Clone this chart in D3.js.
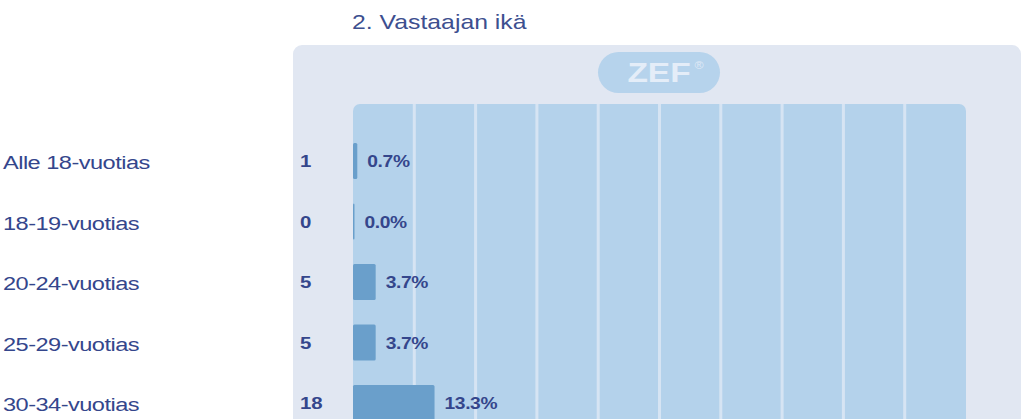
<!DOCTYPE html>
<html><head><meta charset="utf-8">
<script src="https://cdn.jsdelivr.net/npm/d3@7"></script>
<style>body{margin:0;background:#fff;overflow:hidden}svg{display:block}</style>
</head><body>
<script>
const title = "2. Vastaajan ikä";
const categories = ["Alle 18-vuotias","18-19-vuotias","20-24-vuotias","25-29-vuotias","30-34-vuotias"];
const counts = [1,0,5,5,18];
const percents = [0.7,0.0,3.7,3.7,13.3];
const gridTicks = [0,10,20,30,40,50,60,70,80,90,100];

const W=1024,H=419;
const FF="Liberation Sans, Arial, sans-serif";
const SX=1.24;
const svg=d3.select("body").append("svg").attr("width",W).attr("height",H);
const txt="#34468c";
const x=d3.scaleLinear().domain([0,100]).range([353,966]);
const y=d3.scalePoint().domain(categories).range([161,403]);
const barH=36;
const bw=i=>Math.max(x(percents[i])-x(0),1.5);

function stext(px,py,str,opts){
  const g=svg.append("g").attr("transform",`translate(${px},${py}) scale(${opts.sx||SX},1)`);
  const t=g.append("text").attr("x",0).attr("y",0).attr("font-family",FF)
    .attr("font-size",opts.size).attr("fill",opts.fill||txt).text(str);
  if(opts.bold) t.attr("font-weight","bold");
  if(opts.anchor) t.attr("text-anchor",opts.anchor);
  if(opts.ls!=null) t.attr("letter-spacing",opts.ls);
  return t;
}

// title
stext(352,29,title,{size:20,fill:"#3d4f8f"});

// outer panel
svg.append("rect").attr("x",293).attr("y",45).attr("width",728).attr("height",420).attr("rx",9).attr("fill","#e1e7f2");

// ZEF pill
svg.append("rect").attr("x",598).attr("y",52).attr("width",122).attr("height",41).attr("rx",20.5).attr("fill","#b6d3ec");
stext(659,82,"ZEF",{size:27,bold:true,fill:"#e4edf8",anchor:"middle"});
stext(699,69,"®",{size:10,fill:"#dfe9f6",anchor:"middle"});

// plot area
svg.append("rect").attr("x",x(0)).attr("y",104).attr("width",x(100)-x(0)).attr("height",400).attr("rx",7).attr("fill","#b4d2eb");
svg.selectAll("rect.sep").data(gridTicks.slice(1,-1)).join("rect").attr("class","sep")
  .attr("x",d=>x(d)-1.5).attr("y",104).attr("width",3).attr("height",400).attr("fill","#d6e4f3");

// bars
svg.selectAll("rect.bar").data(categories).join("rect").attr("class","bar")
  .attr("x",x(0)).attr("y",d=>y(d)-barH/2)
  .attr("width",(d,i)=>bw(i)).attr("height",barH)
  .attr("rx",1.5).attr("fill","#6a9fcb");

categories.forEach((c,i)=>{
  stext(3,y(c)+8,c,{size:18,ls:-0.4,sx:1.31});
  stext(300,y(c)+6,String(counts[i]),{size:17,bold:true,sx:1.2});
  stext(x(0)+bw(i)+10,y(c)+6,percents[i].toFixed(1)+"%",{size:16,bold:true,sx:1.2,ls:-0.3});
});
</script>
</body></html>
